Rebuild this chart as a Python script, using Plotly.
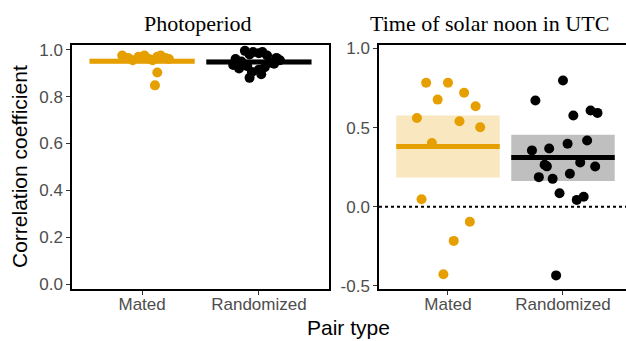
import plotly.graph_objects as go

# ---------------- data ----------------
categories = ["Mated", "Randomized"]
panel_titles = ["Photoperiod", "Time of solar noon in UTC"]

# Photoperiod panel
photo_mated_vals = [0.975, 0.965, 0.955, 0.970, 0.975, 0.960, 0.955, 0.970, 0.975, 0.965, 0.960, 0.903, 0.848]
photo_mated_jit = [-0.17, -0.12, -0.08, -0.03, 0.02, 0.06, 0.09, 0.13, 0.16, 0.20, 0.23, 0.13, 0.11]
photo_rand_vals = [0.995, 0.990, 0.985, 0.990, 0.980, 0.975, 0.965, 0.955, 0.960, 0.950,
                   0.945, 0.940, 0.935, 0.930, 0.925, 0.920, 0.915, 0.905, 0.895, 0.880]
photo_rand_jit = [-0.12, -0.05, 0.00, 0.03, -0.08, 0.07, 0.15, 0.18, -0.20, -0.15,
                  0.10, 0.13, -0.22, -0.10, 0.05, -0.17, 0.00, -0.06, 0.02, -0.08]
photo_means = [0.951, 0.948]
photo_ci_low = [0.941, 0.938]
photo_ci_high = [0.961, 0.958]

# Solar noon panel
noon_mated_vals = [0.783, 0.783, 0.677, 0.720, 0.635, 0.561, 0.540, 0.502, 0.403, 0.047, -0.095, -0.216, -0.427]
noon_mated_jit = [-0.19, 0.00, -0.09, 0.14, 0.24, -0.27, 0.10, 0.28, -0.14, -0.23, 0.19, 0.05, -0.04]
noon_rand_vals = [0.798, 0.671, 0.576, 0.608, 0.593, 0.419, 0.398, 0.368, 0.356, 0.265,
                  0.255, 0.279, 0.254, 0.187, 0.176, 0.208, 0.085, 0.043, 0.063, -0.434]
noon_rand_jit = [0.00, -0.24, 0.09, 0.24, 0.30, 0.21, 0.04, -0.12, -0.27, -0.16,
                 -0.14, 0.15, 0.28, -0.21, -0.09, 0.06, -0.03, 0.12, 0.18, -0.06]
noon_means = [0.381, 0.311]
noon_ci_low = [0.184, 0.163]
noon_ci_high = [0.576, 0.455]

colors = ["#E69F00", "#000000"]
fills = ["rgba(230,159,0,0.25)", "rgba(0,0,0,0.25)"]

# ---------------- figure ----------------
fig = go.Figure()
positions = [1, 2]
half = 0.45

panels = [
    ("x", "y", [photo_mated_vals, photo_rand_vals], [photo_mated_jit, photo_rand_jit],
     photo_means, photo_ci_low, photo_ci_high),
    ("x2", "y2", [noon_mated_vals, noon_rand_vals], [noon_mated_jit, noon_rand_jit],
     noon_means, noon_ci_low, noon_ci_high),
]

shapes = []
for xr, yr, vals, jits, means, lo, hi in panels:
    for i, p in enumerate(positions):
        shapes.append(dict(type="rect", xref=xr, yref=yr, x0=p - half, x1=p + half,
                           y0=lo[i], y1=hi[i], fillcolor=fills[i], line=dict(width=0),
                           layer="below"))
    for i, p in enumerate(positions):
        fig.add_trace(go.Scatter(
            x=[p + j for j in jits[i]], y=vals[i], mode="markers", xaxis=xr, yaxis=yr,
            marker=dict(color=colors[i], size=10, line=dict(width=0)), showlegend=False))
    for i, p in enumerate(positions):
        fig.add_trace(go.Scatter(
            x=[p - half, p + half], y=[means[i], means[i]], mode="lines", xaxis=xr, yaxis=yr,
            line=dict(color=colors[i], width=5), showlegend=False))

# zero reference line in right panel
shapes.append(dict(type="line", xref="x2 domain", yref="y2", x0=0, x1=1, y0=0, y1=0,
                   line=dict(color="black", width=2, dash="dot")))

tickfont = dict(family="Liberation Sans, Arial", size=17, color="#4D4D4D")
axis_common = dict(showline=True, linecolor="black", linewidth=1.5, ticks="outside",
                   ticklen=4, tickwidth=1.2, tickcolor="#333333", showgrid=False,
                   zeroline=False, tickfont=tickfont)

W, H = 626, 341
L, R, T, B = 72, 0, 45, 52
pw = W - L - R

fig.update_layout(
    width=W, height=H,
    margin=dict(l=L, r=R, t=T, b=B),
    plot_bgcolor="white", paper_bgcolor="white",
    shapes=shapes,
    xaxis=dict(domain=[0, (329 - L) / pw], range=[0.4, 2.6], tickvals=positions,
               ticktext=categories, mirror=True, anchor="y", ticklabelstandoff=-5,
               **axis_common),
    yaxis=dict(domain=[0, 1], range=[-0.02, 1.02], tickvals=[0, 0.2, 0.4, 0.6, 0.8, 1.0],
               ticktext=["0.0", "0.2", "0.4", "0.6", "0.8", "1.0"], mirror=True,
               anchor="x", **axis_common),
    xaxis2=dict(domain=[(379 - L) / pw, 1], range=[0.4, 2.548], tickvals=positions,
                ticktext=categories, mirror=True, anchor="y2", ticklabelstandoff=-5,
                **axis_common),
    yaxis2=dict(domain=[0, 1], range=[-0.52, 1.022], tickvals=[-0.5, 0, 0.5, 1.0],
                ticktext=["-0.5", "0.0", "0.5", "1.0"], anchor="x2", **axis_common),
    annotations=[
        dict(text=panel_titles[0], x=(198 - L) / pw, y=1, xref="paper", yref="paper",
             xanchor="center", yanchor="bottom", yshift=7, showarrow=False,
             font=dict(family="Liberation Serif, Times New Roman", size=22, color="black")),
        dict(text=panel_titles[1], x=(489 - L) / pw, y=1, xref="paper", yref="paper",
             xanchor="center", yanchor="bottom", yshift=7, showarrow=False,
             font=dict(family="Liberation Serif, Times New Roman", size=22, color="black")),
        dict(text="Correlation coefficient", x=0, y=0.5, xref="paper", yref="paper",
             xanchor="center", yanchor="middle", xshift=-(L - 19), textangle=-90,
             showarrow=False,
             font=dict(family="Liberation Sans, Arial", size=21, color="black")),
        dict(text="Pair type", x=(348 - L) / pw, y=0, xref="paper", yref="paper",
             xanchor="center", yanchor="middle", yshift=-(327 - (H - B)), showarrow=False,
             font=dict(family="Liberation Sans, Arial", size=21, color="black")),
    ],
)

fig.write_html("out.html")
